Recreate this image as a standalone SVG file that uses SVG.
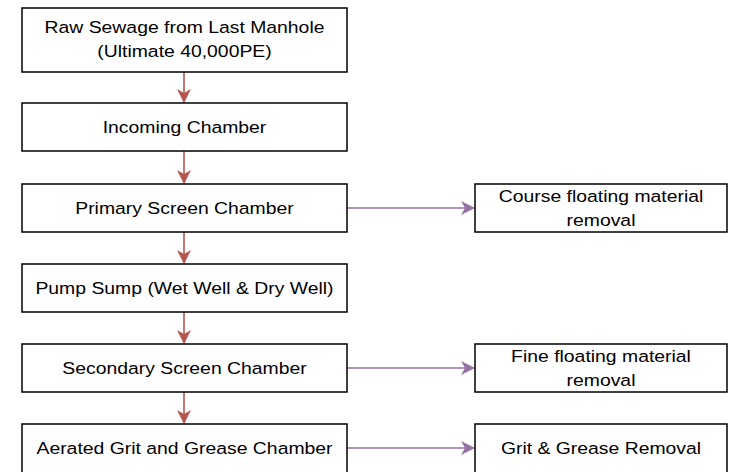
<svg xmlns="http://www.w3.org/2000/svg" width="734" height="472" viewBox="0 0 734 472">
<defs>
<style>
.box{fill:#fff;stroke:#000;stroke-width:1.5}
.t{font-family:"Liberation Sans",Arial,sans-serif;font-size:17px;fill:#000;text-anchor:middle}
.red{stroke:#b85450;stroke-width:1.6;fill:none}
.pur{stroke:#9673a6;stroke-width:1.6;fill:none}
</style>
<marker id="ar" viewBox="0 0 14 14" refX="13" refY="7" markerWidth="14" markerHeight="14" markerUnits="userSpaceOnUse" orient="auto"><path d="M0,0 L14,7 L0,14 L4,7 Z" fill="#b85450"/></marker>
<marker id="ap" viewBox="0 0 14 14" refX="13" refY="7" markerWidth="14" markerHeight="14" markerUnits="userSpaceOnUse" orient="auto"><path d="M0,0 L14,7 L0,14 L4,7 Z" fill="#9673a6"/></marker>
</defs>
<rect width="734" height="472" fill="#fff"/>
<g id="connectors">
<path class="red" d="M184,72 V102" marker-end="url(#ar)"/>
<path class="red" d="M184,151 V183" marker-end="url(#ar)"/>
<path class="red" d="M184,232 V263" marker-end="url(#ar)"/>
<path class="red" d="M184,312 V343" marker-end="url(#ar)"/>
<path class="red" d="M184,392 V423" marker-end="url(#ar)"/>
<path class="pur" d="M347,208 H474" marker-end="url(#ap)"/>
<path class="pur" d="M347,368 H474" marker-end="url(#ap)"/>
<path class="pur" d="M347,448 H474" marker-end="url(#ap)"/>
</g>
<g id="n1"><rect class="box" x="22" y="8" width="325" height="64"/><text class="t" transform="translate(184.5,33) scale(1.14,1)">Raw Sewage from Last Manhole</text><text class="t" transform="translate(184.5,57) scale(1.14,1)">(Ultimate 40,000PE)</text></g>
<g id="n2"><rect class="box" x="22" y="103" width="325" height="48"/><text class="t" transform="translate(184.5,133) scale(1.14,1)">Incoming Chamber</text></g>
<g id="n3"><rect class="box" x="22" y="184" width="325" height="48"/><text class="t" transform="translate(184.5,214) scale(1.14,1)">Primary Screen Chamber</text></g>
<g id="n4"><rect class="box" x="22" y="264" width="325" height="48"/><text class="t" transform="translate(184.5,294) scale(1.14,1)">Pump Sump (Wet Well &amp; Dry Well)</text></g>
<g id="n5"><rect class="box" x="22" y="344" width="325" height="48"/><text class="t" transform="translate(184.5,374) scale(1.14,1)">Secondary Screen Chamber</text></g>
<g id="n6"><rect class="box" x="22" y="424" width="325" height="60"/><text class="t" transform="translate(184.5,454) scale(1.14,1)">Aerated Grit and Grease Chamber</text></g>
<g id="n7"><rect class="box" x="475" y="184" width="252" height="48"/><text class="t" transform="translate(601,202) scale(1.14,1)">Course floating material</text><text class="t" transform="translate(601,226) scale(1.14,1)">removal</text></g>
<g id="n8"><rect class="box" x="475" y="344" width="252" height="48"/><text class="t" transform="translate(601,362) scale(1.14,1)">Fine floating material</text><text class="t" transform="translate(601,386) scale(1.14,1)">removal</text></g>
<g id="n9"><rect class="box" x="475" y="424" width="252" height="60"/><text class="t" transform="translate(601,454) scale(1.14,1)">Grit &amp; Grease Removal</text></g>
</svg>
